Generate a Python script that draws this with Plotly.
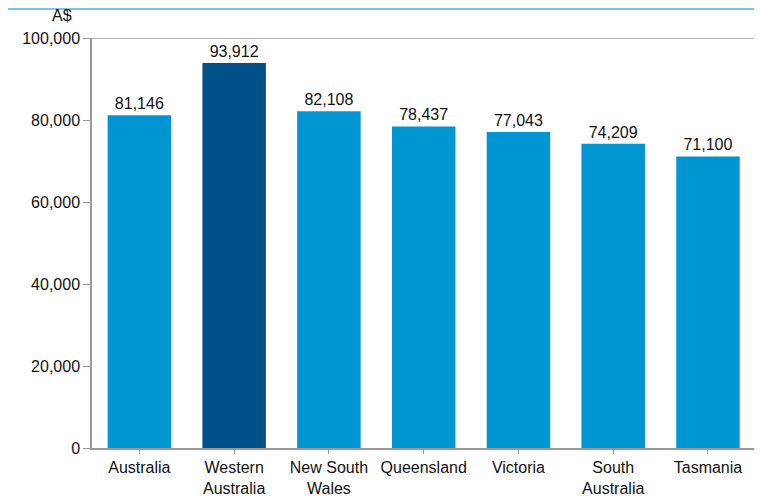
import plotly.graph_objects as go

categories = ["Australia", "Western<br>Australia", "New South<br>Wales", "Queensland",
              "Victoria", "South<br>Australia", "Tasmania"]
values = [81146, 93912, 82108, 78437, 77043, 74209, 71100]
labels = ["81,146", "93,912", "82,108", "78,437", "77,043", "74,209", "71,100"]
colors = ["#0095D3", "#00518A", "#0095D3", "#0095D3", "#0095D3", "#0095D3", "#0095D3"]
y_ticks = [0, 20000, 40000, 60000, 80000, 100000]
y_tick_text = ["0", "20,000", "40,000", "60,000", "80,000", "100,000"]

fig = go.Figure(go.Bar(
    x=list(range(len(categories))), y=values,
    marker=dict(color=colors, line=dict(width=0)),
    width=0.67,
    text=labels, textposition="outside", cliponaxis=False,
    textfont=dict(family="Liberation Sans, Arial", size=16, color="#111111"),
))

fig.update_layout(
    width=754, height=488,
    margin=dict(l=84, r=0, t=30, b=48, autoexpand=False),
    paper_bgcolor="white", plot_bgcolor="white",
    showlegend=False,
    font=dict(family="Liberation Sans, Arial", size=16, color="#111111"),
    xaxis=dict(
        tickmode="array", tickvals=list(range(len(categories))), ticktext=categories,
        range=[-0.5, 6.57], showgrid=False, zeroline=False, automargin=False,
        showline=True, linecolor="#999999", linewidth=1.5,
        ticks="outside", tickson="boundaries", ticklen=4, tickcolor="#999999",
        tickfont=dict(size=16),
    ),
    yaxis=dict(
        range=[0, 100000], tickvals=y_ticks, ticktext=y_tick_text,
        showgrid=False, zeroline=False, automargin=False,
        showline=True, linecolor="#999999", linewidth=1.5,
        ticks="outside", ticklen=7, tickcolor="#999999",
        tickfont=dict(size=16),
    ),
    shapes=[
        dict(type="line", xref="paper", yref="y", x0=0, x1=1, y0=100000, y1=100000,
             line=dict(color="#999999", width=1.5)),
        dict(type="line", xref="paper", yref="paper", x0=-0.2, x1=1, y0=1 + 29 / 410, y1=1 + 29 / 410,
             line=dict(color="#7AC4EA", width=2)),
    ],
    annotations=[
        dict(text="A$", xref="paper", yref="paper", x=(62 - 92) / 670, y=1 + 22 / 410,
             showarrow=False, xanchor="center", yanchor="middle", font=dict(size=16)),
    ],
)

fig.write_html("out.html")
